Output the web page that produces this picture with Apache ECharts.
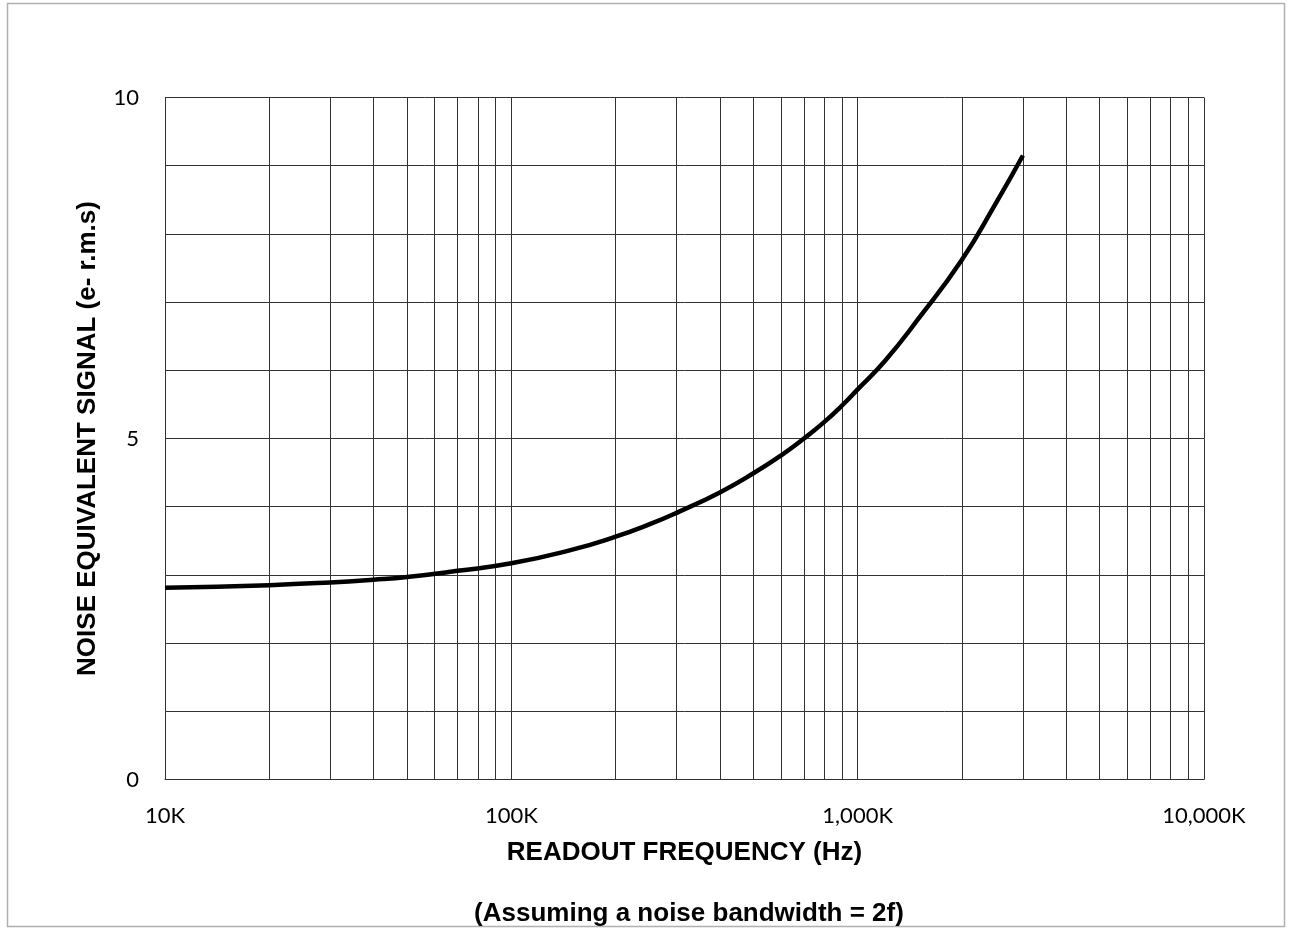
<!DOCTYPE html>
<html>
<head>
<meta charset="utf-8">
<script src="https://cdn.jsdelivr.net/npm/echarts@6/dist/echarts.min.js"></script>
<style>html,body{margin:0;padding:0;background:#fff}#c{width:1289px;height:930px}</style>
</head>
<body>
<div id="c"></div>
<script>
// Data
const freqHz = [10000, 20000, 30000, 40000, 50000, 70000, 100000, 150000, 200000, 250000, 300000, 400000, 500000, 600000, 700000, 800000, 900000, 1000000, 1200000, 1500000, 2000000, 2500000, 3000000];
const noiseE = [2.81, 2.85, 2.89, 2.93, 2.97, 3.06, 3.17, 3.37, 3.56, 3.74, 3.91, 4.21, 4.49, 4.75, 5.0, 5.24, 5.48, 5.72, 6.14, 6.76, 7.62, 8.44, 9.15];
const xDecades = [10000, 100000, 1000000, 10000000];
const xTickLabels = ['10K', '100K', '1,000K', '10,000K'];
const yTickLabels = {0: '0', 5: '5', 10: '10'};
const minorMultipliers = [2, 3, 4, 5, 6, 7, 8, 9];

const minorLines = [];
xDecades.slice(0, -1).forEach(d => minorMultipliers.forEach(m => minorLines.push({xAxis: d * m})));

const chart = echarts.init(document.getElementById('c'));
chart.setOption({
  animation: false,
  backgroundColor: '#fff',
  grid: {left: 165, right: 85, top: 97.5, bottom: 150.5},
  title: {
    text: '(Assuming a noise bandwidth = 2f)',
    left: 684, top: 896, textAlign: 'center',
    textStyle: {fontFamily: 'Liberation Sans', fontWeight: 'bold', fontSize: 26, color: '#000'}
  },
  graphic: [{
    type: 'rect', silent: true,
    shape: {x: 7.5, y: 3.5, width: 1277, height: 923},
    style: {fill: 'none', stroke: '#b0b0b0', lineWidth: 1.5}
  }],
  xAxis: {
    type: 'log', logBase: 10, min: 10000, max: 10000000,
    name: 'READOUT FREQUENCY (Hz)', nameLocation: 'middle', nameGap: 60,
    nameTextStyle: {fontFamily: 'Liberation Sans', fontWeight: 'bold', fontSize: 26, color: '#000'},
    axisLine: {show: true, lineStyle: {color: '#333', width: 1}},
    axisTick: {show: false},
    splitLine: {show: true, lineStyle: {color: '#333', width: 1}},
    axisLabel: {
      margin: 25, fontFamily: 'Lato', fontSize: 22, color: '#000',
      formatter: v => { const i = xDecades.indexOf(Math.round(v)); return i >= 0 ? xTickLabels[i] : ''; }
    }
  },
  yAxis: {
    type: 'value', min: 0, max: 10, interval: 1,
    name: 'NOISE EQUIVALENT SIGNAL (e- r.m.s)', nameLocation: 'middle', nameGap: 64,
    nameTextStyle: {fontFamily: 'Liberation Sans', fontWeight: 'bold', fontSize: 26, color: '#000'},
    axisLine: {show: true, lineStyle: {color: '#333', width: 1}},
    axisTick: {show: false},
    splitLine: {show: true, lineStyle: {color: '#333', width: 1}},
    axisLabel: {
      margin: 26, fontFamily: 'Lato', fontSize: 22, color: '#000',
      formatter: v => (yTickLabels[v] !== undefined ? yTickLabels[v] : '')
    }
  },
  series: [{
    type: 'line',
    data: freqHz.map((f, i) => [f, noiseE[i]]),
    smooth: 0.5,
    showSymbol: false,
    lineStyle: {color: '#000', width: 4.5},
    z: 5,
    markLine: {
      silent: true, symbol: 'none', animation: false,
      label: {show: false},
      lineStyle: {color: '#333', width: 1, type: 'solid'},
      data: minorLines
    }
  }]
});
</script>
</body>
</html>
